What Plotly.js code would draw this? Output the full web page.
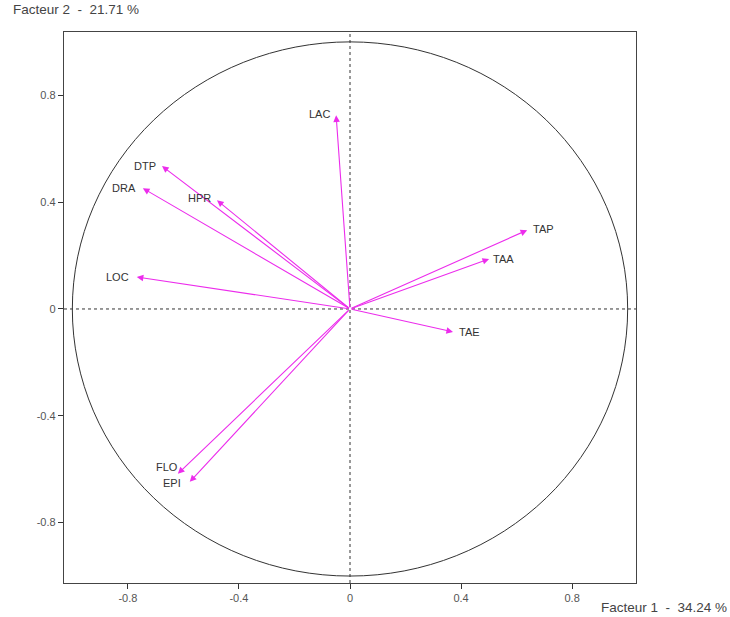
<!DOCTYPE html>
<html>
<head>
<meta charset="utf-8">
<script src="https://cdn.plot.ly/plotly-3.0.1.min.js"></script>
<style>html,body{margin:0;padding:0;background:#fff;}#chart{width:730px;height:617px;}</style>
</head>
<body>
<div id="chart"></div>
<script>
const variables = ["LAC","DTP","DRA","HPR","LOC","TAP","TAA","TAE","FLO","EPI"];
const factor1 = [-0.050,-0.677,-0.746,-0.479,-0.768,0.638,0.501,0.371,-0.620,-0.577];
const factor2 = [0.725,0.535,0.452,0.407,0.120,0.295,0.187,-0.086,-0.617,-0.647];
const labelSide = ["left","left","left","left","left","right","right","right","left","left"];
const tickValues = [-0.8,-0.4,0,0.4,0.8];
const tickLabels = ["-0.8","-0.4","0","0.4","0.8"];
const xTitle = "Facteur 1  -  34.24 %";
const yTitle = "Facteur 2  -  21.71 %";

const arrowColor = "#ec2cec";
const fam = "Liberation Sans, Arial, sans-serif";
const textFont = {family: fam, size: 11, color: "#333"};

// small label offsets (pixels) to keep text clear of the arrow heads
const labelShiftX = [-4,-4,-5,-4,-6,4,2,4,2,-7];
const labelShiftY = [1,0,0,2,0,1,0,0,7,-1];

const arrows = variables.map((v, i) => ({
  x: factor1[i], y: factor2[i], xref: "x", yref: "y",
  ax: 0, ay: 0, axref: "x", ayref: "y",
  text: "", showarrow: true, arrowhead: 2, arrowsize: 1.2, arrowwidth: 1.1,
  arrowcolor: arrowColor, standoff: 0, startstandoff: 0
}));

const labels = variables.map((v, i) => ({
  x: factor1[i], y: factor2[i], xref: "x", yref: "y", text: v, showarrow: false,
  xanchor: labelSide[i] === "left" ? "right" : "left", yanchor: "middle",
  xshift: labelShiftX[i], yshift: labelShiftY[i], font: textFont
}));

const titleAnn = [
  {xref: "paper", yref: "paper", x: -0.093, y: 1.0, yshift: 13, xanchor: "left", yanchor: "bottom",
   text: yTitle, showarrow: false, font: {family: fam, size: 13.5, color: "#444"}},
  {xref: "paper", yref: "paper", x: 1.0, xshift: 93, y: 0, yshift: -34, xanchor: "right", yanchor: "bottom",
   text: xTitle, showarrow: false, font: {family: fam, size: 13.5, color: "#444"}}
];

const layout = {
  width: 730, height: 617,
  margin: {l: 64, r: 94, t: 32, b: 34},
  paper_bgcolor: "#fff", plot_bgcolor: "#fff",
  showlegend: false,
  xaxis: {range: [-1.03, 1.03], tickvals: tickValues, ticktext: tickLabels, ticks: "outside", ticklen: 5,
    tickcolor: "#333", showgrid: false, zeroline: false, showline: true, mirror: true, linecolor: "#444", linewidth: 1.2,
    tickfont: {family: fam, size: 11, color: "#555"}},
  yaxis: {range: [-1.026, 1.037], tickvals: tickValues, ticktext: tickLabels, ticks: "outside", ticklen: 5,
    tickcolor: "#333", showgrid: false, zeroline: false, showline: true, mirror: true, linecolor: "#444", linewidth: 1.2,
    tickfont: {family: fam, size: 11, color: "#555"}},
  shapes: [
    {type: "circle", xref: "x", yref: "y", x0: -1, x1: 1, y0: -1, y1: 1, line: {color: "#333", width: 1}},
    {type: "line", xref: "x", yref: "paper", x0: 0, x1: 0, y0: 0, y1: 1, line: {color: "#333", width: 1, dash: "3px,3px"}},
    {type: "line", xref: "paper", yref: "y", x0: 0, x1: 1, y0: 0, y1: 0, line: {color: "#333", width: 1, dash: "3px,3px"}}
  ],
  annotations: arrows.concat(labels, titleAnn)
};

Plotly.newPlot("chart", [], layout, {displayModeBar: false, staticPlot: true});
</script>
</body>
</html>
